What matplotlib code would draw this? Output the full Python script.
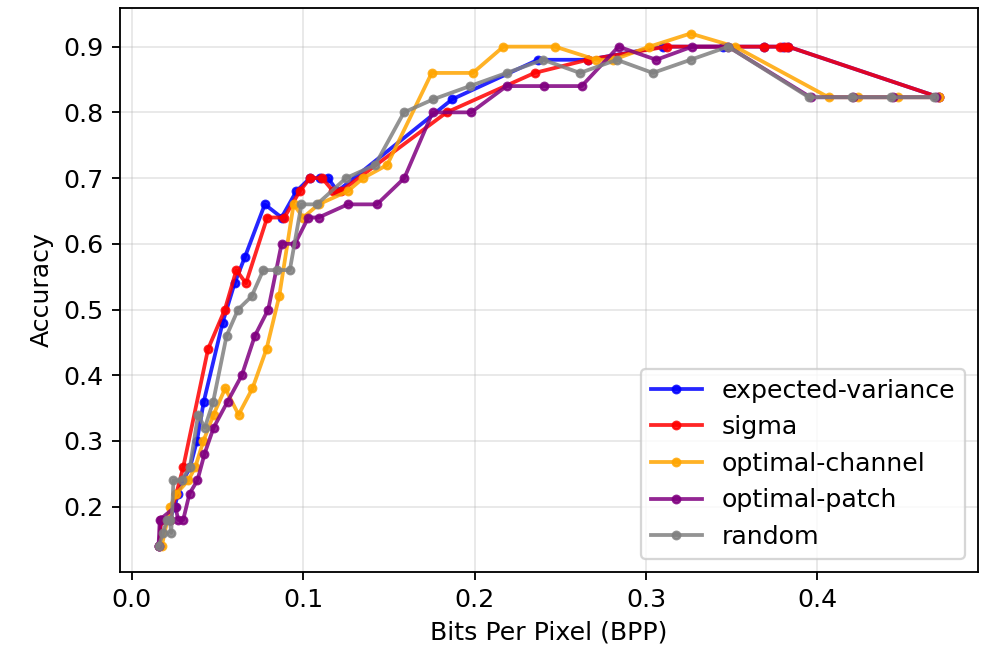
import matplotlib
matplotlib.use("Agg")
import matplotlib.pyplot as plt

# expected-variance
ev_bpp = [0.016, 0.017, 0.022, 0.025, 0.027, 0.030, 0.034, 0.038, 0.042,
          0.053, 0.060, 0.066, 0.0776, 0.0874, 0.096, 0.104, 0.110, 0.1145,
          0.120, 0.187, 0.237, 0.266, 0.310, 0.345, 0.369, 0.380,
          0.383, 0.471]
ev_acc = [0.14, 0.18, 0.18, 0.20, 0.22, 0.24, 0.26, 0.30, 0.36,
          0.48, 0.54, 0.58, 0.66, 0.64, 0.68, 0.70, 0.70, 0.70,
          0.68, 0.82, 0.88, 0.88, 0.90, 0.90, 0.90, 0.90,
          0.90, 0.823]

# sigma
sg_bpp = [0.016, 0.017, 0.022, 0.026, 0.030, 0.0445, 0.0543, 0.061, 0.0666, 0.079,
          0.089, 0.098, 0.104, 0.111, 0.1175, 0.122, 0.1837, 0.235, 0.266, 0.312,
          0.3686, 0.378, 0.381, 0.383, 0.471]
sg_acc = [0.14, 0.18, 0.18, 0.22, 0.26, 0.44, 0.50, 0.56, 0.54, 0.64,
          0.64, 0.68, 0.70, 0.70, 0.68, 0.68, 0.80, 0.86, 0.88, 0.90,
          0.90, 0.90, 0.90, 0.90, 0.823]

# optimal-channel
oc_bpp = [0.0175, 0.0224, 0.026, 0.033, 0.037, 0.0418, 0.0477, 0.0545, 0.0623, 0.0704,
          0.0786, 0.086, 0.0944, 0.100, 0.109, 0.126, 0.135, 0.149, 0.175, 0.199,
          0.2168, 0.247, 0.271, 0.281, 0.302, 0.326, 0.352, 0.4065, 0.424, 0.447,
          0.471]
oc_acc = [0.14, 0.20, 0.22, 0.24, 0.26, 0.30, 0.34, 0.38, 0.34, 0.38,
          0.44, 0.52, 0.66, 0.64, 0.66, 0.68, 0.70, 0.72, 0.86, 0.86,
          0.90, 0.90, 0.88, 0.88, 0.90, 0.92, 0.90, 0.823, 0.823, 0.823,
          0.823]

# optimal-patch
op_bpp = [0.0156, 0.0163, 0.0255, 0.027, 0.030, 0.0337, 0.0383, 0.0424, 0.0477, 0.0559,
          0.0642, 0.0718, 0.0796, 0.0874, 0.0952, 0.103, 0.109, 0.126, 0.143, 0.159,
          0.1755, 0.198, 0.2187, 0.2407, 0.2625, 0.284, 0.306, 0.327, 0.348, 0.396,
          0.421, 0.444, 0.469]
op_acc = [0.14, 0.18, 0.20, 0.18, 0.18, 0.22, 0.24, 0.28, 0.32, 0.36,
          0.40, 0.46, 0.50, 0.60, 0.60, 0.64, 0.64, 0.66, 0.66, 0.70,
          0.80, 0.80, 0.84, 0.84, 0.84, 0.90, 0.88, 0.90, 0.90, 0.823,
          0.823, 0.823, 0.823]

# random
rd_bpp = [0.0156, 0.0183, 0.0204, 0.0222, 0.023, 0.0243, 0.029, 0.0339, 0.0387, 0.0426,
          0.0475, 0.0553, 0.062, 0.0699, 0.0767, 0.0845, 0.0922, 0.099, 0.108, 0.125,
          0.142, 0.1588, 0.176, 0.1973, 0.2187, 0.240, 0.2615, 0.283, 0.304, 0.326,
          0.348, 0.395, 0.420, 0.443, 0.468]
rd_acc = [0.14, 0.16, 0.18, 0.18, 0.16, 0.24, 0.24, 0.26, 0.34, 0.32,
          0.36, 0.46, 0.50, 0.52, 0.56, 0.56, 0.56, 0.66, 0.66, 0.70,
          0.72, 0.80, 0.82, 0.84, 0.86, 0.88, 0.86, 0.88, 0.86, 0.88,
          0.90, 0.823, 0.823, 0.823, 0.823]

series = [
    ("expected-variance", ev_bpp, ev_acc, "blue"),
    ("sigma", sg_bpp, sg_acc, "red"),
    ("optimal-channel", oc_bpp, oc_acc, "orange"),
    ("optimal-patch", op_bpp, op_acc, "purple"),
    ("random", rd_bpp, rd_acc, "gray"),
]

plt.rcParams["font.size"] = 11

fig = plt.figure(figsize=(996 / 165, 656 / 165), dpi=165)
ax = fig.add_axes([0.12, 0.1285, 0.862, 0.8595])
for label, x, y, color in series:
    ax.plot(x, y, marker="o", markersize=3.3, linewidth=1.65, color=color,
            alpha=0.85, label=label)
ax.set_xlabel("Bits Per Pixel (BPP)")
ax.set_ylabel("Accuracy")
ax.grid(True, alpha=0.3)
ax.legend(loc="lower right")
fig.savefig("out.png", dpi=165)
